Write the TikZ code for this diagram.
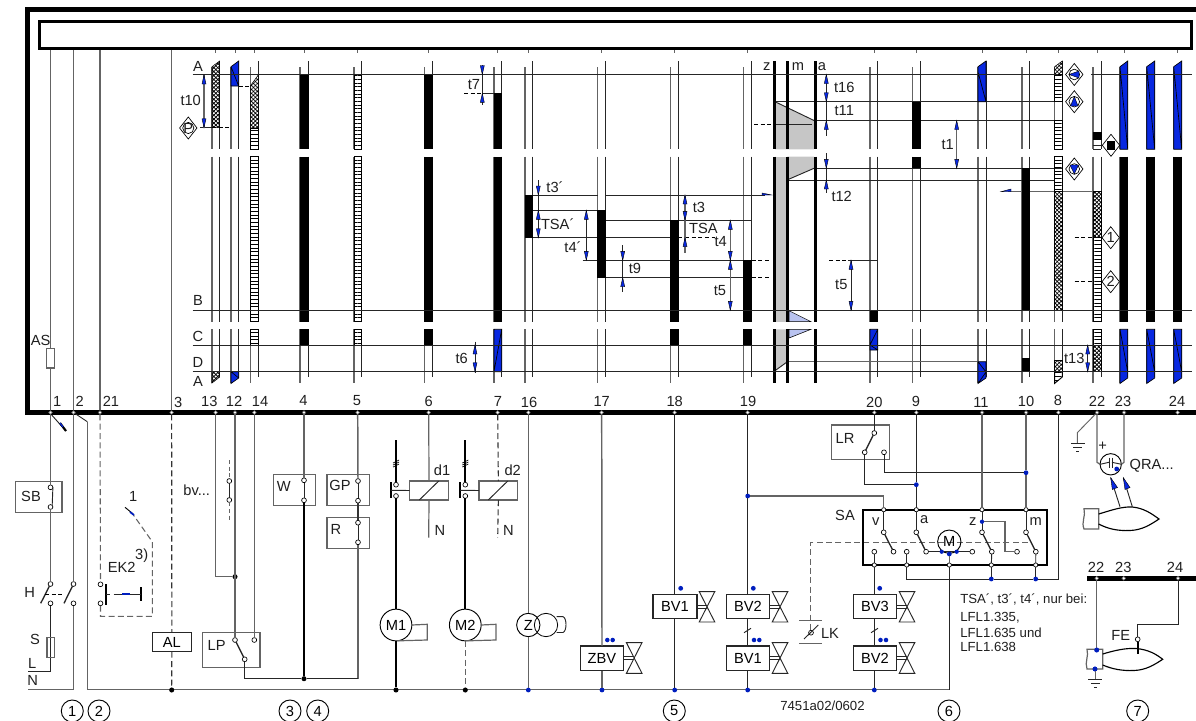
\documentclass[tikz,border=0pt]{standalone}
\usepackage{fontspec}
\setmainfont{Liberation Sans}
\usetikzlibrary{patterns.meta}
\definecolor{bl}{RGB}{8,40,225}
\definecolor{dotb}{RGB}{0,30,190}
\definecolor{gw}{RGB}{100,100,100}
\definecolor{sgray}{RGB}{198,198,198}
\definecolor{lblue}{RGB}{185,195,240}
\newcounter{lc}
\newcommand\lb[3]{\stepcounter{lc}\node[lab] (lab\thelc) at (#1,#2) {#3};}
\newcommand\lbs[3]{\stepcounter{lc}\node[labs] (lab\thelc) at (#1,#2) {#3};}
\newcommand\hup[2]{\filldraw[head] (#1,#2) -- (#1-2,#2+9) -- (#1+2,#2+9) -- cycle;}
\newcommand\hdn[2]{\filldraw[head] (#1,#2) -- (#1-2,#2-9) -- (#1+2,#2-9) -- cycle;}
\newcommand\blk[4]{\fill[black] (#1-.5,#3) rectangle (#2+.5,#4);}
\newcommand\lad[4]{\draw[ladder] (#1,#3) rectangle (#2,#4);}
\newcommand\hch[4]{\draw[hatch] (#1,#3) rectangle (#2,#4);}
\newcommand\boxn[5]{\node[boxs,minimum width={(#4-#2)*0.75pt},minimum height={(#5-#3)*0.75pt}] (#1) at ({(#2+#4)/2},{(#3+#5)/2}) {};}
\newcommand\dia[3]{\filldraw[fill=white,draw=black,line width=.5pt] (#1-8.7,#2)--(#1,#2-11)--(#1+8.7,#2)--(#1,#2+11)--cycle;\lb{#1}{#2}{#3}}
\newcommand\gnd[2]{\draw[wire] (#1-7,#2)--(#1+7,#2) (#1-4.5,#2+4)--(#1+4.5,#2+4) (#1-1.5,#2+8.4)--(#1+1.5,#2+8.4);}
\newcommand\bow[3]{% cx, cy, half height
 \draw[wire] (#1-7.8,#2-#3)--(#1+7.8,#2-#3)--(#1-7.8,#2+#3)--(#1+7.8,#2+#3)--cycle;
 \draw[wire] (#1-10.5,#2-1.6)--(#1,#2-1.6) (#1-10.5,#2+1.6)--(#1,#2+1.6);}
\tikzset{
 lab/.style={font=\fontsize{11}{12}\selectfont,inner sep=0pt,text=black!88},
 labs/.style={font=\fontsize{9.9}{12}\selectfont,inner sep=0pt,text=black!88,anchor=west},
 wire/.style={line width=.7pt,black!85},
 gwire/.style={line width=1.1pt,gw},
 twire/.style={line width=1.5pt,black},
 dwire/.style={line width=.8pt,gw,dash pattern=on 4.5pt off 2.5pt},
 dsh/.style={line width=.7pt,black,dash pattern=on 3pt off 2pt},
 head/.style={fill=bl,draw=black,line width=.3pt},
 ladder/.style={draw=black,line width=.7pt,pattern={Lines[angle=0,distance=2.75pt,line width=.5pt]}},
 hatch/.style={draw=black,line width=.4pt,preaction={pattern={Lines[angle=45,distance=2.1pt,line width=.6pt]}},pattern={Lines[angle=-45,distance=2.1pt,line width=.6pt]}},
 bluef/.style={fill=bl,draw=black,line width=.5pt},
 boxs/.style={draw=gw,line width=.85pt,inner sep=0pt,outer sep=0pt,rectangle},
 tbox/.style={draw=black!85,line width=.8pt,inner sep=0pt,outer sep=0pt,rectangle,font=\fontsize{11}{12}\selectfont},
 ct/.style={circle,draw=black,fill=white,line width=.5pt,minimum size=3.6pt,inner sep=0pt,outer sep=0pt},
 tp/.style={circle,draw=gw,fill=white,line width=.4pt,minimum size=2.8pt,inner sep=0pt,outer sep=0pt},
 bd/.style={circle,fill=dotb,minimum size=3.6pt,inner sep=0pt,outer sep=0pt},
 kd/.style={circle,fill=black,minimum size=3.8pt,inner sep=0pt,outer sep=0pt},
 mot/.style={circle,draw=black,fill=white,line width=.7pt,inner sep=0pt,outer sep=0pt,font=\fontsize{11}{12}\selectfont},
 num/.style={circle,draw=black,line width=.7pt,minimum size=16.5pt,inner sep=0pt,font=\fontsize{11}{12}\selectfont},
}
\begin{document}
\begin{tikzpicture}[x=0.75pt,y=-0.75pt]
\useasboundingbox (0,0) rectangle (1196,721);
% ---------- channel verticals
\foreach \l/\r in {212/219.7,231/238.7,250.3/258.3,300/308,354/361.7,424.7/432.7,494/501.7,525/532.7,597.7/605.3,670.7/678.3,743.7/751.7,870/877.7,912.7/920.3,978/986,1022/1029.7,1054.7/1062.3,1093/1101,1120/1127.7,1146.7/1154.7,1173.7/1181.7}{
 \draw[line width=.9pt,gw] (\l,67)--(\l,149.3) (\l,156.7)--(\l,321.7) (\l,329.3)--(\l,383.3);
 \draw[wire] (\r,61)--(\r,149.3) (\r,156.7)--(\r,321.7) (\r,329.3)--(\r,377.3);
}
\foreach \x in {215.7,235,254.3,304,357.7,428.7,497.7,528.3,601.7,674.7,747.7,874.3,916.3,982,1026,1058.3,1097,1124,1177.7}{
 \draw[line width=.7pt,gw] (\x,50)--(\x,53);}
% long verticals through frame
\draw[gwire,line width=.9pt] (50.5,50)--(50.5,412) (73.5,50)--(73.5,412) (100,50)--(100,412) (171.7,50)--(171.7,412);
\draw[boxs,fill=white] (46.7,348.3) rectangle (54.7,368);
\lb{40.7}{340}{AS}
% ---------- horizontals
\draw[wire] (775,101.7)--(1062,101.7) (814,120.5)--(1062,120.5) (815,168.3)--(1062,168.3) (789,180)--(1054.7,180);
\draw[gwire] (1008,191.7)--(1093,191.7);
\draw[wire] (532.7,195)--(597.7,195) (605.3,195)--(765,195);
\draw[wire] (532.7,210.3)--(597.7,210.3) (605.3,220.3)--(751.7,220.3) (525,237.7)--(670.7,237.7);
\draw[dsh] (678.3,237.7)--(715,237.7);
\draw[wire] (582.7,260.3)--(743.7,260.3) (597.7,277.7)--(743.7,277.7);
\draw[dsh] (751.7,260.3)--(770,260.3) (751.7,277.7)--(770,277.7);
\draw[dsh] (829,260.3)--(848,260.3); \draw[wire] (848,260.3)--(877.7,260.3);
\draw[gwire] (787,361.7)--(978,361.7);
\draw[dsh] (464,93.3)--(482,93.3); \draw[wire] (482,93.3)--(494,93.3);
\draw[wire] (200,127.7)--(212,127.7); \draw[dsh] (212,127.7)--(231,127.7);
\draw[dsh] (238.7,86)--(250.3,86);
\draw[dsh] (754,124)--(775,124); \draw[gwire,line width=.8pt] (775,124)--(812,124);
\draw[dsh] (1074.7,237.7)--(1093,237.7) (1074.7,281.7)--(1093,281.7);
% ---------- SA column
\fill[sgray] (775,101.7)--(814,120.5)--(814,149.3)--(775,149.3)--cycle;
\fill[sgray] (775,156.7)--(787,156.7)--(787,321.7)--(775,321.7)--cycle;
\fill[sgray] (787,156.7)--(814,156.7)--(814,168.3)--(787,180)--cycle;
\fill[sgray] (775,329.3)--(787,329.3)--(787,362)--(775,370.7)--cycle;
\filldraw[fill=lblue,draw=black,line width=.4pt] (789,310.7)--(811,321.7)--(789,321.7)--cycle;
\filldraw[fill=lblue,draw=black,line width=.4pt] (789,329.3)--(811,329.3)--(789,338)--cycle;
\draw[wire] (775,101.7)--(814,120.5) (814,168.3)--(787,180) (775,370.7)--(787,362);
\draw[wire] (775,124)--(812,124);
\foreach \x in {774.7,787.3,815.3}{\draw[line width=2.3pt] (\x,61)--(\x,149.3) (\x,156.7)--(\x,321.7) (\x,329.3)--(\x,383.3);}
% ---------- bars: hatched parts
\draw[hatch] (212,66.7)--(219.7,61)--(219.7,127.7)--(212,127.7)--cycle;
\draw[hatch] (212,371.7)--(219.7,371.7)--(219.7,377)--(212,383)--cycle;
\draw[bluef] (231,66.7)--(238.7,61)--(238.7,86)--(231,86)--cycle (231,66.7)--(238.7,86);
\draw[bluef] (231,371.7)--(238.7,371.7)--(238.7,378)--(231,383.5)--cycle (231,371.7)--(238.7,378);
\draw[hatch] (250.3,86)--(258.3,75)--(258.3,128)--(250.3,128)--cycle;
\lad{250.3}{258.3}{128}{149.3}\lad{250.3}{258.3}{156.7}{321.7}\lad{250.3}{258.3}{329.3}{345}
\blk{300}{308}{74.5}{149.3}\blk{300}{308}{156.7}{321.7}\blk{300}{308}{329.3}{345}
\lad{354}{361.7}{74.5}{149.3}\lad{354}{361.7}{156.7}{321.7}\lad{354}{361.7}{329.3}{345}
\blk{424.7}{432.7}{74.5}{149.3}\blk{424.7}{432.7}{156.7}{321.7}\blk{424.7}{432.7}{329.3}{345}
\blk{494}{501.7}{93.3}{149.3}\blk{494}{501.7}{156.7}{321.7}
\draw[bluef] (494,329.3) rectangle (501.7,371.7) (501.7,329.3)--(494,371.7);
\blk{525}{532.7}{195}{237.7}
\blk{597.7}{605.3}{210.3}{277.7}
\blk{670.7}{678.3}{220.3}{321.7}\blk{670.7}{678.3}{329.3}{345}
\blk{743.7}{751.7}{260.3}{321.7}\blk{743.7}{751.7}{329.3}{345}
\blk{870}{877.7}{310.3}{321.7}
\draw[bluef] (870,329.3) rectangle (877.7,350) (877.7,329.3)--(870,345)--(877.7,350);
\blk{912.7}{920.3}{101.7}{149.3}\blk{912.7}{920.3}{156.7}{168.3}
\draw[bluef] (978,66.7)--(986,61)--(986,101.7)--(978,101.7)--cycle (978,66.7)--(986,61) (978,72)--(986,101.7);
\draw[bluef] (978,361.7)--(986,361.7)--(986,378)--(978,383.5)--cycle (978,361.7)--(986,372)--(978,383.5);
\blk{1022}{1029.7}{168.3}{310.3}\blk{1022}{1029.7}{357.7}{371.7}
\draw[hatch] (1054.7,66.7)--(1062.3,61)--(1062.3,74.5)--(1054.7,74.5)--cycle;
\lad{1054.7}{1062.3}{74.5}{101.7}\lad{1054.7}{1062.3}{120.5}{149.3}\lad{1054.7}{1062.3}{156.7}{191.7}
\hch{1054.7}{1062.3}{191.7}{310.3}\hch{1054.7}{1062.3}{360}{371.7}
\draw[ladder] (1054.7,371.7)--(1062.3,371.7)--(1062.3,377)--(1054.7,383.3)--cycle;
\blk{1093}{1101}{132.3}{140}\draw[wire] (1093,145)--(1101,145) (1093,149.3)--(1101,149.3);
\hch{1093}{1101}{191.7}{237.3}\lad{1093}{1101}{237.3}{321.7}\lad{1093}{1101}{329.3}{345}\hch{1093}{1101}{345}{371.7}
\foreach \l/\r in {1120/1127.7,1146.7/1154.7,1173.7/1181.7}{
 \draw[bluef] (\l,66.7)--(\r,61)--(\r,149.3)--(\l,149.3)--cycle (\l,66.7)--(\r,149.3);
 \blk{\l}{\r}{156.7}{321.7}
 \draw[bluef] (\l,329.3)--(\r,329.3)--(\r,378)--(\l,383.5)--cycle (\l,329.3)--(\r,372);
}
% ---------- rows
\draw[wire] (192.7,74.5)--(1058,74.5) (1091,74.5)--(1192,74.5);
\draw[wire] (192.7,310.3)--(1192,310.3) (192.7,345)--(1192,345) (192.7,371.7)--(1192,371.7);
\lb{198}{66}{A}\lb{198}{300.7}{B}\lb{198}{336}{C}\lb{198}{362.7}{D}\lb{198}{381}{A}
\lb{766.7}{66.7}{z}\lb{798}{66.7}{m}\lb{822}{66.7}{a}
% half arrows
\filldraw[fill=bl,draw=black,line width=.3pt] (762,193)--(771.7,195)--(762,195)--cycle;
\filldraw[fill=bl,draw=black,line width=.3pt] (1001,191.7)--(1011,189)--(1011,191.7)--cycle;
% ---------- dimensions
\draw[gwire,line width=.8pt] (204,75)--(204,127.7); \hup{204}{75}\hdn{204}{127.7}\lb{190.7}{100}{t10}
\draw[wire] (482.3,65)--(482.3,105); \hdn{482.3}{74.5}\hup{482.3}{93.3}\lb{474}{84.3}{t7}
\draw[wire] (538.3,180)--(538.3,237.7); \hdn{538.3}{195}\hup{538.3}{210.3}\hdn{538.3}{237.7}
\lb{555}{186.7}{t3´}\lb{557.7}{224}{TSA´}
\draw[wire] (586.3,210.3)--(586.3,260.3); \hup{586.3}{210.3}\hdn{586.3}{260.3}\lb{573}{246.7}{t4´}
\draw[wire] (622.7,245)--(622.7,292.3); \hdn{622.7}{260.3}\hup{622.7}{277.7}\lb{635}{268.3}{t9}
\draw[gwire,line width=.8pt] (685,195)--(685,252.7); \hup{685}{195}\hdn{685}{220.3}\hup{685}{237.7}\lb{699}{207.7}{t3}\lb{703.3}{228.7}{TSA}
\draw[gwire,line width=.9pt] (730.3,220.3)--(730.3,310.3); \hup{730.3}{220.3}\hdn{730.3}{260.3}\hup{730.3}{260.3}\hdn{730.3}{310.3}\lb{720.7}{241.7}{t4}\lb{720}{291}{t5}
\draw[wire] (475,341.7)--(475,372.7); \hup{475}{345}\hdn{475}{371.7}\lb{461.7}{358.3}{t6}
\draw[wire] (826.3,74.5)--(826.3,136); \hup{826.3}{74.5}\hdn{826.3}{101.7}\hup{826.3}{120.5}\lb{844.3}{87.7}{t16}\lb{844.3}{110.7}{t11}
\draw[wire] (826.3,153)--(826.3,193); \hdn{826.3}{168.3}\hup{826.3}{180}\lb{841.7}{196.7}{t12}
\draw[gwire,line width=.9pt] (956.7,120.5)--(956.7,168.3); \hup{956.7}{120.5}\hdn{956.7}{168.3}\lb{947.7}{145}{t1}
\draw[wire] (851,260.3)--(851,310.3); \hup{851}{260.3}\hdn{851}{310.3}\lb{841.3}{284.3}{t5}
\draw[wire] (1087.7,345)--(1087.7,371.7); \hup{1087.7}{345}\hdn{1087.7}{371.7}\lb{1074.3}{358.3}{t13}
% diamonds
\dia{188.3}{128}{}\draw[line width=.5pt] (188.3,128) circle[radius=5.6];\lb{188.3}{128}{P}
\dia{1074.3}{74.5}{}\draw[line width=.5pt] (1074.3,74.5) circle[radius=5.3];\filldraw[head] (1069,74.5)--(1079,71)--(1079,78)--cycle;
\dia{1074.3}{101.7}{}\draw[line width=.5pt] (1074.3,101.7) circle[radius=5.3];\filldraw[head] (1074.3,96.5)--(1070.5,106)--(1078,106)--cycle;
\dia{1074.3}{169}{}\draw[line width=.5pt] (1074.3,169) circle[radius=5.3];\filldraw[head] (1074.3,174)--(1070,165)--(1078.5,165)--cycle;
\dia{1111}{145.3}{}\fill (1106.8,141)rectangle(1115.2,149.5);
\dia{1110.7}{237.7}{1}\dia{1110.7}{281.7}{2}
% ---------- frame
\draw[line width=3.75pt] (1196,9.5)--(27.5,9.5)--(27.5,412.5)--(1196,412.5);
\draw[line width=2.25pt,fill=white] (39.5,21.5) rectangle (1191,48.5);
% ---------- terminals
\foreach \n/\x/\tx/\ty in {1/50.5/57.3/401,2/73.5/79.7/401,21/100/111/401,3/171.7/178.3/402,13/215.7/209.3/401,12/235/234/401,14/254.3/260/401,4/304/303.5/400,5/357.7/357/401,6/428.7/428.7/401,7/497.7/498/401,16/528.3/529/402,17/601.7/601.7/401,18/674.7/674.7/401,19/747.7/748/401,20/874.3/874.3/402,9/916.3/916/401,11/982/981/402,10/1026/1026/401,8/1058.3/1058/400,22/1097/1097/401,23/1124/1123/401,24/1177.7/1177/401}{
 \node[tp] (T\n) at (\x,412.5) {};
 \node[lab] (TL\n) at (\tx,\ty) {\n};
}
% ---------- left part: 1, 2
\boxn{SBb}{15.7}{481.7}{62}{512.7}\lb{31}{496.7}{SB}
\node[ct] (sb1) at (50.5,487.3) {}; \node[ct] (sb2) at (50.5,507) {};
\draw[wire] (sb1.east)--(sb2.north east);
\node[ct] (h1) at (50.5,584) {}; \node[ct] (h2) at (50.5,603.3) {};
\node[ct] (h3) at (73.5,584) {}; \node[ct] (h4) at (73.5,603.3) {};
\draw[gwire] (T1)--(sb1); \draw[gwire] (sb2)--(h1);
\draw[gwire,line width=.9pt] (T2)--(h3);
\draw[wire,line width=1pt] (h1)--(40.7,603.3); \draw[wire,line width=1pt] (h3)--(64,603.3);
\draw[dsh] (45,594)--(64,594);
\coordinate (Lend) at (27.7,671.3); \coordinate (Nend) at (27.7,689.3);
\draw[wire] (h2)--(h2|-Lend)--(Lend);
\draw[gwire,line width=.9pt] (h4)--(h4|-Nend)--(Nend);
\boxn{Sf}{47}{637.7}{54.3}{657.3}
\lb{29.7}{592.7}{H}\lb{35}{639.3}{S}\lb{32.3}{663.3}{L}\lb{32.7}{680.7}{N}
\draw[wire] (51.7,415)--(66,431); \draw[line width=1.6pt,black] (60,423)--(66,431); \draw[line width=.9pt,bl] (60,423)--(63,427);
% bus N
\coordinate (busL) at (87.3,689.7); \coordinate (stub) at (87.3,421.7);
\draw[wire] (T2)--(stub);
\draw[gwire,line width=.9pt] (stub)--(busL)--(949.3,689.7);
% 21 / EK2
\node[ct] (e1) at (100.5,584.3) {}; \node[ct] (e2) at (100.5,603.3) {};
\draw[dwire] (T21)--(e1);
\coordinate (e3) at (100.5,616.3); \coordinate (e4) at (152.3,616.3); \coordinate (e5) at (152.3,541.7); \coordinate (e6) at (132,513);
\draw[dwire] (e2)--(e3)--(e4)--(e5)--(e6);
\draw[line width=.7pt] (e6)--(125,507.3); \draw[line width=1.3pt,dotb] (130,512)--(134,515);
\lb{133.3}{496.7}{1}\lb{121.7}{567.7}{EK2}\lb{141.7}{556}{3)}
\draw[line width=1.3pt] (106,584)--(106,605) (141,587.3)--(141,600.7);
\draw[wire] (106,594)--(110,594) (113.5,594)--(141,594);
\draw[line width=1.2pt,dotb] (122,594)--(130,594);
% 3 / AL
\node[tbox,minimum width=29.3pt,minimum height=14.5pt] (AL) at (171.8,642) {AL};
\node[kd] (d3) at (171.7,690) {};
\draw[dwire,black!80] (T3)--(AL.north); \draw[dwire,black!80] (AL.south)--(d3);
% 13 12 14 LP
\node[kd] (d13) at (235,576.7) {};
\draw[gwire,line width=.9pt] (T13)--(T13|-d13)--(d13);
\boxn{LPb}{202.7}{632.3}{260}{667.3}\lb{216.7}{645.7}{LP}
\node[ct] (lp1) at (235,640) {}; \node[ct] (lp2) at (254.3,640) {}; \node[ct] (lp3) at (244.7,659.3) {};
\draw[gwire] (T12)--(lp1); \draw[gwire,line width=.9pt] (T14)--(lp2);
\draw[wire,line width=1pt] (lp1)--(lp3);
\lb{196.7}{490.7}{bv...}
\node[ct] (bv1) at (229.3,481) {}; \node[ct] (bv2) at (229.3,500) {};
\draw[wire] (bv1)--(bv2);
\coordinate (bvt) at (229.3,460); \coordinate (bvb) at (229.3,520);
\draw[dsh,gw] (bvt)--(bv1); \draw[dsh,gw] (bv2)--(bvb);
\node[kd] (d4) at (304,678.7) {};
\draw[wire] (lp3)--(lp3|-d4)--(d4);
\boxn{Wb}{273.3}{474.7}{315.7}{505.7}\lb{283.7}{486.7}{W}
\node[ct] (w1) at (304,480.3) {}; \node[ct] (w2) at (304,500.3) {};
\draw[gwire] (T4)--(w1); \draw[wire] (w1)--(w2); \draw[twire] (w2)--(d4);
\boxn{GPb}{327}{474.7}{369.7}{505.7}\lb{340}{485}{GP}
\boxn{Rb}{327}{517.3}{369.7}{548.3}\lb{336}{529.3}{R}
\node[ct] (g1) at (358,481) {}; \node[ct] (g2) at (358,500.7) {};
\node[ct] (r1) at (358,522.7) {}; \node[ct] (r2) at (358,542.3) {};
\draw[gwire] (T5)--(g1); \draw[wire] (g1)--(g2); \draw[line width=1pt,black!80] (g2)--(r1); \draw[wire] (r1)--(r2);
\draw[gwire] (r2)--(r2|-d4); \draw[wire] (d4)--(r2|-d4);
% M1, d1
\foreach \nm/\xx/\bx/\rx/\tr/\lx/\nx/\dl in {1/396/390.7/427.3/6/442/440/d1,2/465.3/460/496/7/512.7/508.3/d2}{
 \node[mot,minimum size=23.8pt] (M\nm) at (\xx,625) {M\nm};
 \node[ct] (k\nm a) at (\xx,484.7) {}; \node[ct] (k\nm b) at (\xx,496) {};
 \coordinate (k\nm t) at (\xx,440);
 \draw[twire] (k\nm t)--(k\nm a); \draw[twire] (k\nm b)--(M\nm);
 \draw[line width=.5pt] (\xx-3,465)--(\xx+3,462) (\xx-3,463)--(\xx+3,460) (\xx-3,467)--(\xx+3,464);
 \draw[line width=1.7pt] (\bx,482.3)--(\bx,498.3);
 \node[kd] (dm\nm) at (\xx,690) {};
 \draw[gwire,line width=.9pt] (M\nm.east)--(\rx,624.3)--(\rx,640)--(M\nm.south);
 \lb{\lx}{470.7}{\dl}\lb{\nx}{530.7}{N}
}
\draw[twire] (M1)--(dm1); \draw[dwire] (M2)--(dm2);
\boxn{D1}{409.7}{481}{448.3}{500}\boxn{D2}{479}{481}{517.7}{500}
\draw[wire] (390.7,490.3)--(D1.west) (460,490.3)--(D2.west);
\draw[wire] (419.3,500)--(438.7,481) (488.3,500)--(507.7,481);
\coordinate (n1) at (428.7,537.7); \coordinate (n2) at (497.7,537.7);
\draw[gwire,line width=.9pt] (T6)--(D1.north); \draw[gwire,line width=.9pt] (D1.south)--(n1);
\draw[dwire,black!80] (T7)--(D2.north); \draw[dwire,black!80] (D2.south)--(n2);
% 16 Z
\node[bd] (d16) at (528.3,690) {};
\node[circle,draw=black,line width=.6pt,minimum size=17.5pt,inner sep=0pt] (Zb) at (546,625) {};
\node[mot,fill=none,minimum size=17.5pt] (Z) at (528.3,625) {Z};
\draw[gwire] (T16)--(Z); \draw[gwire,line width=.9pt] (Z)--(d16);
\draw[wire] (556.7,616.7)--(563,616.7) .. controls (567,618) and (567,631) .. (563,632.5)--(556.7,632.5);
% 17 ZBV, 18 BV1, 19
\node[tbox,minimum width=32.5pt,minimum height=18.5pt] (ZBV) at (602,658.3) {ZBV};
\node[bd] (d17) at (602,690) {};
\draw[gwire] (T17)--(ZBV.north); \draw[gwire,line width=.9pt] (ZBV.south)--(d17);
\bow{634.2}{658}{15.4}
\node[bd,minimum size=3.4pt] (zd1) at (607.3,640) {}; \node[bd,minimum size=3.4pt] (zd2) at (612.7,640) {};
\node[tbox,minimum width=33pt,minimum height=18.3pt] (BVa) at (675,606.5) {BV1};
\node[bd] (d18) at (674.7,690) {};
\draw[wire] (T18)--(T18|-BVa.north); \draw[wire] (T18|-BVa.south)--(d18);
\bow{707}{606.8}{15.2}
\node[bd] (bd18) at (680.7,588.3) {};
\node[tbox,minimum width=32.5pt,minimum height=18.3pt] (BVb) at (748,606.5) {BV2};
\node[tbox,minimum width=32.5pt,minimum height=18.5pt] (BVc) at (748,658.3) {BV1};
\node[bd] (d19b) at (747.7,690) {}; \node[bd] (d19a) at (747.7,496) {};
\draw[wire] (T19)--(d19a); \draw[wire] (d19a)--(d19a|-BVb.north);
\draw[wire] (d19a|-BVb.south)--(d19a|-BVc.north); \draw[wire] (d19a|-BVc.south)--(d19b);
\draw[wire] (744,632.7)--(751,628.3);
\bow{780}{606.8}{15.2}\bow{780}{658}{15.4}
\node[bd] (bd19) at (753.3,588.3) {};
\node[bd,minimum size=3.4pt] (bd19a) at (754,640) {}; \node[bd,minimum size=3.4pt] (bd19b) at (759.3,640) {};
% LK
\coordinate (lkt) at (810.7,542.5); \coordinate (lke) at (1028,542.5);
\draw[wire,gw] (799,620)--(822,620) (799,643.3)--(822,643.3);
\node[ct] (lkc) at (811,632.7) {};
\draw[dwire] (lke)--(lkt)--(lkt|-lkc);
\draw[wire] (804,639)--(818.3,625);
\lb{830}{633}{LK}
% ---------- SA
\draw[line width=1.6pt] (863,509.7) rectangle (1047.3,565);
\lb{845}{515}{SA}\lb{875.7}{521.7}{v}\lb{924.3}{520}{a}\lb{972.7}{521.7}{z}\lb{1035.7}{521.7}{m}
\foreach \n/\x in {v/883.7,a/916.3,z/982,m/1026}{
 \node[ct,minimum size=3.2pt] (st\n) at (\x,509.7) {};
 \node[ct] (sc\n) at (\x,532.3) {};
 \node[ct] (se\n) at (\x+9.8,551.7) {};
 \draw[wire] (st\n)--(sc\n); \draw[wire,line width=1pt] (sc\n)--(se\n);
}
\foreach \n/\x in {a/874.3,b/906.7,c/949.3,d/991.3,e/1035.7}{\node[ct,minimum size=3.2pt] (sb\n) at (\x,565) {};}
\node[ct] (ci1) at (874.3,551.7) {}; \node[ct] (ci2) at (906.7,551.7) {};
\node[ct] (ci3) at (972.3,551.7) {}; \node[ct] (ci4) at (1017,551.7) {};
\draw[wire] (ci1)--(sba); \draw[wire] (ci2)--(sbb);
\draw[wire] (sez)--(sbd); \draw[wire] (sem)--(sbe);
\node[mot,fill=none,minimum size=17.5pt] (SM) at (949.3,541.7) {M};
\draw[wire] (sea)--(ci3);
\node[bd,minimum size=3.2pt] (sd1) at (941.7,551.7) {}; \node[bd,minimum size=3.2pt] (sd3) at (956.7,551.7) {};
\node[bd] (sd2) at (949.3,554) {};
\draw[gwire,line width=.8pt] (sd2)--(sbc);
\draw[wire] (sbc)--(949.3,689.7);
\node[bd,minimum size=3.2pt] (zdot) at (982,521.7) {};
\draw[gwire,line width=.9pt] (zdot)--(1005,521.7)--(1005,551.7)--(ci4);
\node[bd] (dd) at (991.3,579) {}; \node[bd] (de) at (1035.7,579) {};
\draw[wire] (sbd)--(dd); \draw[wire] (sbe)--(de);
\draw[wire] (T8)--(T8|-de)--(de)--(dd)--(sbb|-dd)--(sbb);
% LR
\boxn{LRb}{831.7}{425}{889.3}{459.3}\lb{845}{438.3}{LR}
\node[ct] (lr1) at (874.3,433) {}; \node[ct] (lr2) at (864.7,452.3) {}; \node[ct] (lr3) at (884,452.3) {};
\draw[wire] (T20)--(lr1); \draw[wire,line width=1pt] (lr1)--(lr2);
\node[bd] (d9) at (916.3,484.7) {}; \node[bd] (d10) at (1026,472.7) {};
\draw[wire] (lr2)--(lr2|-d9)--(d9); \draw[wire] (lr3)--(lr3|-d10)--(d10);
\draw[wire] (T9)--(d9); \draw[wire] (d9)--(sta);
\draw[gwire] (T11)--(stz); \draw[gwire] (T10)--(d10); \draw[gwire,line width=.9pt] (d10)--(stm);
\draw[gwire] (d19a)--(stv|-d19a)--(stv);
% BV3 BV2
\node[tbox,minimum width=32.5pt,minimum height=18.3pt] (BVd) at (875,606.5) {BV3};
\node[tbox,minimum width=32.5pt,minimum height=18.5pt] (BVe) at (875,658.3) {BV2};
\node[bd] (d20) at (874.3,690) {};
\draw[wire] (sba)--(sba|-BVd.north); \draw[wire] (sba|-BVd.south)--(sba|-BVe.north); \draw[wire] (sba|-BVe.south)--(d20);
\draw[wire] (871,632.7)--(878,628.3);
\bow{907}{606.8}{15.2}\bow{907}{658}{15.4}
\node[bd] (bd20) at (879.7,588.3) {};
\node[bd,minimum size=3.4pt] (bd20a) at (880.5,640) {}; \node[bd,minimum size=3.4pt] (bd20b) at (886,640) {};
\lbs{960}{599.3}{TSA´, t3´, t4´, nur bei:}\lbs{960}{618}{LFL1.335,}\lbs{960}{632.5}{LFL1.635 und}\lbs{960}{647}{LFL1.638}
\lbs{780}{706}{7451a02/0602}
% ---------- right part QRA
\node[mot,minimum size=16pt] (QRA) at (1110.7,464.3) {};
\draw[gwire,line width=.9pt] (T22)--(1097,462.3)--(QRA.west);
\draw[gwire,line width=.9pt] (T23)--(1124,462.3)--(QRA.east);
\draw[wire] (QRA.west)--(1109,462.3) (1112,462.3)--(QRA.east);
\draw[wire] (1109,457.5)--(1109,467.5) (1112,457.5)--(1112,467.5);
\node[bd] (qd) at (1116.7,469) {};
\lb{1102.7}{446.7}{+}\lb{1151.7}{466}{QRA...}
\coordinate (g1c) at (1077.3,432.7); \coordinate (g1b) at (1077.3,443.3);
\draw[wire,gw] (T22)--(g1c)--(g1b);
\gnd{1077.8}{443.3}
\draw[wire] (1120,506.7)--(1110.7,477.7) (1132.3,506.7)--(1123.3,477.7);
\filldraw[head] (1110.7,477.7)--(1112.3,489.5)--(1117.5,487.5)--cycle;
\filldraw[head] (1123.3,477.7)--(1125,489.5)--(1130,487.5)--cycle;
\draw[gwire,line width=.9pt,fill=white] (1084,508.7)--(1098.7,508.7)--(1098.7,529)--(1084,529) .. controls (1081,522) and (1086,516) .. (1084,508.7)--cycle;
\draw[line width=.85pt,black] (1098.7,514) .. controls (1112,510) and (1122,506.5) .. (1132,507) .. controls (1144,508) and (1152,514) .. (1159,519) .. controls (1150,525) and (1142,530) .. (1130,530.5) .. controls (1118,531) and (1108,529) .. (1098.7,524);
% FE
\fill (1086.7,576)--(1196,576)--(1196,580.6)--(1086.7,580.6)--cycle;
\lb{1096}{567.7}{22}\lb{1123.3}{567.7}{23}\lb{1175}{567.7}{24}
\node[tp] (U22) at (1096.7,578.3) {}; \node[tp] (U23) at (1123.7,578.3) {}; \node[tp] (U24) at (1178,578.3) {};
\node[bd] (fb1) at (1096.7,650) {}; \node[bd] (fb2) at (1095,669) {};
\draw[gwire,line width=.9pt] (U22)--(fb1);
\node[ct] (fe) at (1137.7,639.3) {};
\draw[wire] (U24)--(1178,624.3)--(1137.7,624.3)--(fe);
\lb{1120.7}{635}{FE}
\draw[gwire,line width=.9pt] (1087,649.3)--(1102.7,649.3)--(1102.7,669)--(1087,669) .. controls (1084.5,662) and (1089,656) .. (1087,649.3)--cycle;
\draw[line width=.85pt,black] (1102.7,654) .. controls (1116,650) and (1126,648) .. (1136,648.5) .. controls (1148,649.5) and (1156,654) .. (1162.7,659.3) .. controls (1154,665) and (1146,670) .. (1134,670.5) .. controls (1122,671) and (1112,669) .. (1102.7,665);
\draw[line width=1.4pt] (fe)--(1137.7,654);
\node[bd] (fb1b) at (1096.7,650) {}; \node[bd] (fb2b) at (1095,669) {};
\coordinate (g2) at (1095,679.3);
\draw[wire,gw] (fb2)--(g2);
\gnd{1095.3}{679.3}
% circled numbers
\foreach \n/\x in {1/72.3,2/99,3/290,4/317.7,5/674.3,6/949,7/1137.7}{
 \node[num] (C\n) at (\x,711) {\n};}
\end{tikzpicture}
\end{document}
